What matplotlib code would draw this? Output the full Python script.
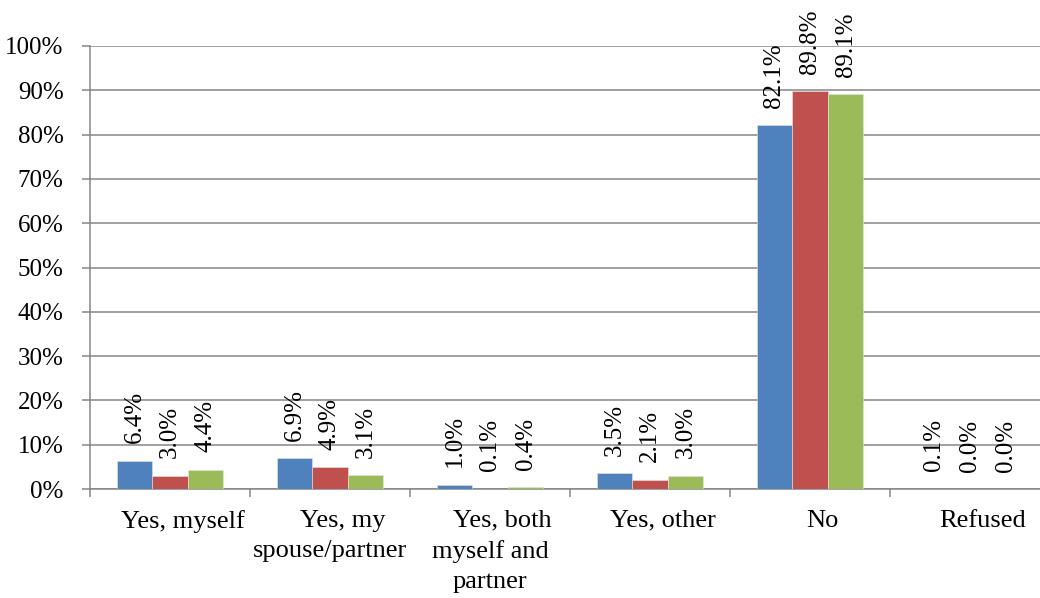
import numpy as np
import matplotlib
matplotlib.use("Agg")
import matplotlib.pyplot as plt
from matplotlib.ticker import FuncFormatter, MultipleLocator, FixedLocator

plt.rcParams['font.family'] = ['Liberation Serif', 'DejaVu Serif']

categories = ["Yes, myself", "Yes, my\nspouse/partner", "Yes, both\nmyself and\npartner",
              "Yes, other", "No", "Refused"]
series_a = [6.4, 6.9, 1.0, 3.5, 82.1, 0.1]
series_b = [3.0, 4.9, 0.1, 2.1, 89.8, 0.0]
series_c = [4.4, 3.1, 0.4, 3.0, 89.1, 0.0]
colors = ["#4F81BD", "#C0504D", "#9BBB59"]

fig = plt.figure(figsize=(10.4, 5.98), dpi=100)
# right edge of the plot sits just past the picture, as in the reference
ax = fig.add_axes([90 / 1040, 109 / 598, 960 / 1040, 443 / 598])

x = np.arange(len(categories))
bw = 0.667 / 3
grey = "#868686"

for i, vals in enumerate([series_a, series_b, series_c]):
    pos = x + (i - 1) * bw
    ax.bar(pos, vals, width=bw, color=colors[i], edgecolor="#e6e6e6",
           linewidth=0.4, zorder=3)
    for p, v in zip(pos, vals):
        ax.annotate("{0:.1f}%".format(v), xy=(p, v), xytext=(0, 12.5),
                    textcoords="offset points", rotation=90,
                    ha="center", va="bottom", fontsize=18, zorder=4)

ax.set_xlim(-0.5, len(categories) - 0.5)
ax.set_ylim(0, 100)
ax.yaxis.set_major_locator(MultipleLocator(10))
ax.yaxis.set_major_formatter(FuncFormatter(lambda v, p: "{0:.0f}%".format(v)))
ax.grid(axis="y", color=grey, linewidth=1.1, zorder=0)

ax.xaxis.set_major_locator(FixedLocator(np.arange(len(categories) + 1) - 0.5))
ax.xaxis.set_major_formatter(FuncFormatter(lambda v, p: ""))
ax.tick_params(axis="x", which="major", length=6, width=1.1, color=grey)
ax.tick_params(axis="y", length=6, width=1.1, color=grey, pad=13, labelsize=18)

# category labels, line by line (first line sits a little right, as in Excel)
for xi, lab in zip(x, categories):
    for j, line in enumerate(lab.split("\n")):
        dx = 9 if j == 0 else 0
        ax.annotate(line, xy=(xi, 0), xycoords=("data", "axes fraction"),
                    xytext=(dx, -15 - j * 22), textcoords="offset points",
                    ha="center", va="top", fontsize=19, annotation_clip=False)

for s in ["top", "right"]:
    ax.spines[s].set_visible(False)
for s in ["left", "bottom"]:
    ax.spines[s].set_color(grey)
    ax.spines[s].set_linewidth(1.1)

fig.savefig("out.png", dpi=100)
